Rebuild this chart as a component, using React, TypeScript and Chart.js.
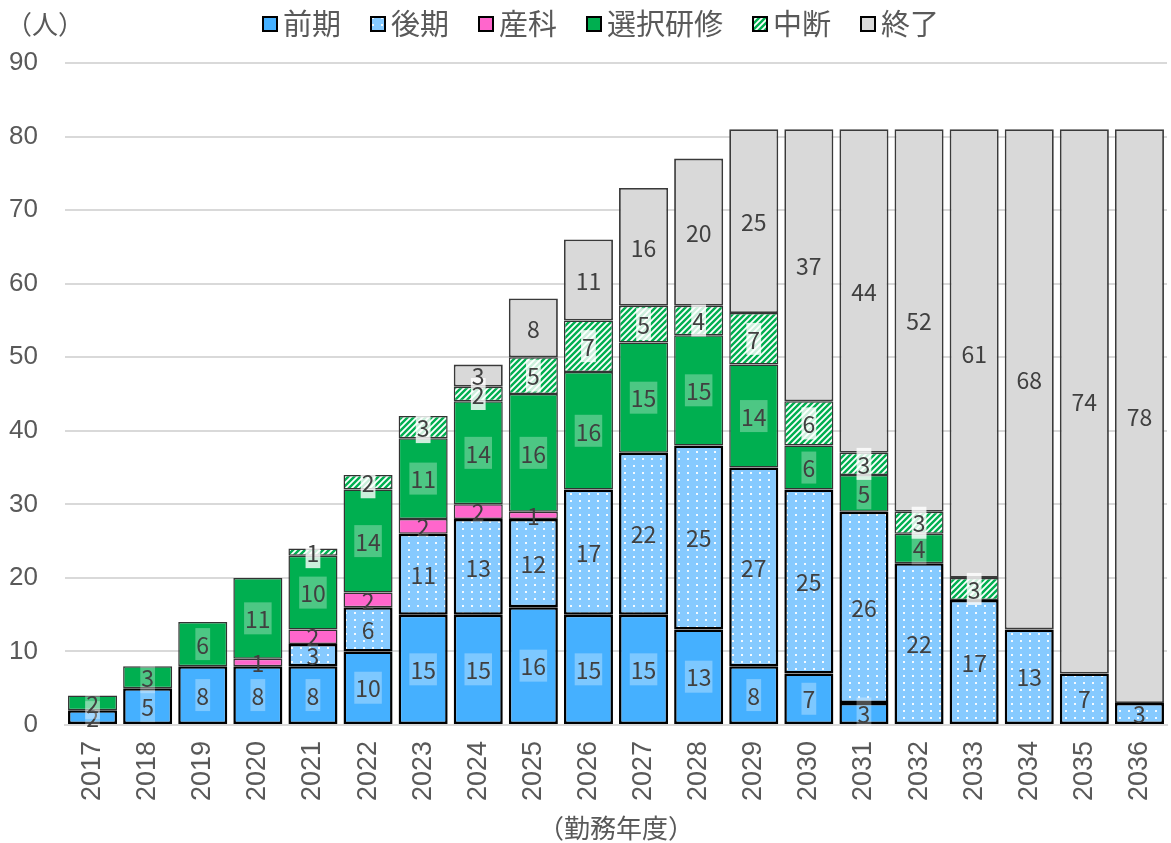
import React, { useEffect, useRef } from "react";
import { Chart, registerables } from "chart.js";

Chart.register(...registerables);

const years = ["2017","2018","2019","2020","2021","2022","2023","2024","2025","2026","2027","2028","2029","2030","2031","2032","2033","2034","2035","2036"];
const seriesNames = ["前期", "後期", "産科", "選択研修", "中断", "終了"];
const zenki = [2, 5, 8, 8, 8, 10, 15, 15, 16, 15, 15, 13, 8, 7, 3, 0, 0, 0, 0, 0];
const kouki = [0, 0, 0, 0, 3, 6, 11, 13, 12, 17, 22, 25, 27, 25, 26, 22, 17, 13, 7, 3];
const sanka = [0, 0, 0, 1, 2, 2, 2, 2, 1, 0, 0, 0, 0, 0, 0, 0, 0, 0, 0, 0];
const sentaku = [2, 3, 6, 11, 10, 14, 11, 14, 16, 16, 15, 15, 14, 6, 5, 4, 0, 0, 0, 0];
const chudan = [0, 0, 0, 0, 1, 2, 3, 2, 5, 7, 5, 4, 7, 6, 3, 3, 3, 0, 0, 0];
const shuryo = [0, 0, 0, 0, 0, 0, 0, 3, 8, 11, 16, 20, 25, 37, 44, 52, 61, 68, 74, 78];
const yMax = 90;
const yStep = 10;
const yUnit = "（人）";
const xTitle = "（勤務年度）";

const JP = '"Noto Sans CJK JP", "Noto Sans", sans-serif';
const NUM = '"Liberation Sans", Arial, sans-serif';
const TEXT_GRAY = "#595959";

function makeDots(bg: string) {
  const w = 9;
  const h = 7;
  const c = document.createElement("canvas");
  c.width = w;
  c.height = h;
  const g = c.getContext("2d")!;
  g.fillStyle = bg;
  g.fillRect(0, 0, w, h);
  g.fillStyle = "rgba(255,255,255,0.9)";
  g.fillRect(3, 3, 2, 2);
  return g.createPattern(c, "repeat")!;
}

function makeHatch(bg: string) {
  const s = 6;
  const c = document.createElement("canvas");
  c.width = s;
  c.height = s;
  const g = c.getContext("2d")!;
  g.fillStyle = bg;
  g.fillRect(0, 0, s, s);
  g.strokeStyle = "#ffffff";
  g.lineWidth = 1.8;
  g.beginPath();
  g.moveTo(0, s);
  g.lineTo(s, 0);
  g.moveTo(-s / 2, s / 2);
  g.lineTo(s / 2, -s / 2);
  g.moveTo(s / 2, s * 1.5);
  g.lineTo(s * 1.5, s / 2);
  g.stroke();
  return g.createPattern(c, "repeat")!;
}

const labelBoxes: (string | null)[] = [
  "rgba(255,255,255,0.3)",
  null,
  null,
  "rgba(255,255,255,0.3)",
  "rgba(255,255,255,0.8)",
  null,
];

const labelPlugin = {
  id: "segLabels",
  afterDatasetsDraw(chart: any) {
    const ctx = chart.ctx as CanvasRenderingContext2D;
    ctx.save();
    ctx.font = `23px ${JP}`;
    ctx.textAlign = "center";
    ctx.textBaseline = "middle";
    chart.data.datasets.forEach((ds: any, di: number) => {
      const meta = chart.getDatasetMeta(di);
      if (meta.hidden) return;
      meta.data.forEach((el: any, i: number) => {
        const v = ds.data[i];
        if (v == null || v === 0) return;
        const p = el.getProps(["x", "y", "base"], true);
        const cy = (p.y + p.base) / 2;
        const t = String(v);
        const w = ctx.measureText(t).width;
        const fill = labelBoxes[di];
        if (fill) {
          ctx.fillStyle = fill;
          ctx.fillRect(p.x - w / 2 - 1, cy - 16, w + 2, 32);
        }
        ctx.fillStyle = "#404040";
        ctx.fillText(t, p.x, cy + 1);
      });
    });
    ctx.restore();
  },
};

const decorPlugin = {
  id: "decor",
  afterDraw(chart: any) {
    const ctx = chart.ctx as CanvasRenderingContext2D;
    const area = chart.chartArea;
    ctx.save();
    // unit label
    ctx.font = `26px ${JP}`;
    ctx.fillStyle = TEXT_GRAY;
    ctx.textBaseline = "middle";
    ctx.textAlign = "left";
    ctx.fillText(yUnit, 6, 24);
    // x title
    ctx.textAlign = "center";
    ctx.fillText(xTitle, (area.left + area.right) / 2, 828);
    // legend
    ctx.font = `29px ${JP}`;
    let x = 263;
    const cy = 24;
    const box = 14;
    chart.data.datasets.forEach((ds: any) => {
      ctx.fillStyle = ds.backgroundColor;
      ctx.fillRect(x, cy - box / 2, box, box);
      ctx.strokeStyle = "#000000";
      ctx.lineWidth = 2;
      ctx.strokeRect(x, cy - box / 2, box, box);
      ctx.fillStyle = TEXT_GRAY;
      ctx.textAlign = "left";
      const tx = x + box + 6;
      ctx.fillText(ds.label, tx, cy);
      x = tx + ctx.measureText(ds.label).width + 30;
    });
    ctx.restore();
  },
};

function nz(a: number[]) {
  return a.map((v) => (v === 0 ? null : v));
}

export default function App() {
  const ref = useRef<HTMLCanvasElement | null>(null);

  useEffect(() => {
    if (!ref.current) return;
    const cBlue = "#45B0FF";
    const cLight = "#86CAFF";
    const cPink = "#FF66CC";
    const cGreen = "#00AF50";
    const cGray = "#D9D9D9";
    const series = [zenki, kouki, sanka, sentaku, chudan, shuryo];
    const fills: any[] = [cBlue, makeDots(cLight), cPink, cGreen, makeHatch(cGreen), cGray];
    const borders = ["#000000", "#000000", "#333333", "#333333", "#333333", "#3a3a3a"];
    const bw = [2.5, 2.5, 1.5, 1.5, 1.5, 1.8];

    const chart = new Chart(ref.current, {
      type: "bar",
      data: {
        labels: years,
        datasets: series.map((d, i) => ({
          label: seriesNames[i],
          data: nz(d) as any,
          backgroundColor: fills[i],
          borderColor: borders[i],
          borderWidth: bw[i],
          borderSkipped: false,
          barPercentage: 0.89,
          categoryPercentage: 1.0,
        })),
      },
      options: {
        animation: false,
        responsive: true,
        maintainAspectRatio: false,
        layout: { padding: { left: 0, right: 4, top: 63, bottom: 0 } },
        plugins: {
          legend: { display: false },
          tooltip: { enabled: false },
          title: { display: false },
        },
        scales: {
          x: {
            stacked: true,
            grid: { display: false, drawTicks: false },
            border: { display: true, color: "#D9D9D9", width: 2 },
            ticks: {
              color: TEXT_GRAY,
              font: { size: 27, family: NUM },
              minRotation: 90,
              maxRotation: 90,
              padding: 16,
              autoSkip: false,
            },
            afterFit(scale: any) {
              scale.height = 118;
              scale.paddingLeft = 0;
              scale.paddingRight = 0;
            },
          },
          y: {
            stacked: true,
            min: 0,
            max: yMax,
            grid: { color: "#D9D9D9", lineWidth: 2, drawTicks: false },
            border: { display: false },
            ticks: {
              stepSize: yStep,
              color: TEXT_GRAY,
              font: { size: 26, family: NUM },
              padding: 27,
            },
            afterFit(scale: any) {
              scale.width = 65;
            },
          },
        },
      },
      plugins: [labelPlugin, decorPlugin],
    });
    return () => chart.destroy();
  }, []);

  return (
    <div style={{ position: "fixed", left: 0, top: 0, width: 1171, height: 843, background: "#fff" }}>
      <canvas ref={ref} />
    </div>
  );
}
